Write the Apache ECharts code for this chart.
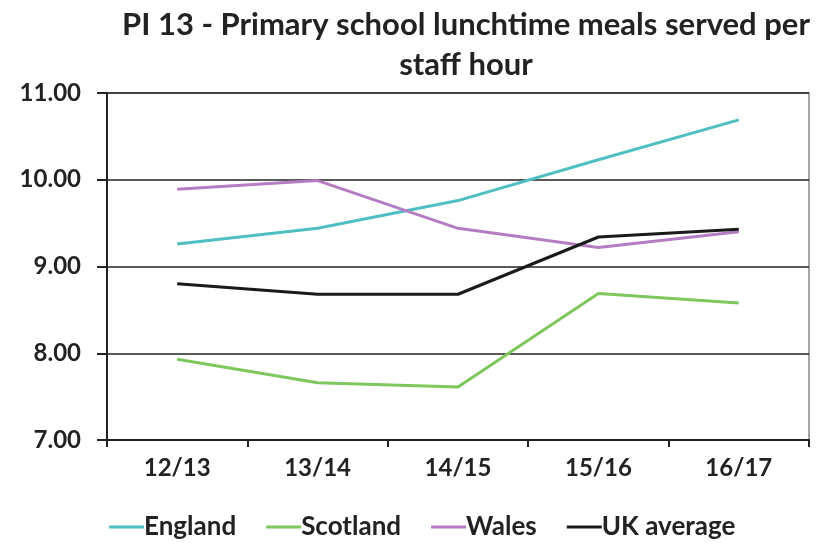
<!DOCTYPE html>
<html><head><meta charset="utf-8">
<script src="https://cdn.jsdelivr.net/npm/echarts@6/dist/echarts.min.js"></script>
<style>html,body{margin:0;padding:0;background:#fff}#c{width:826px;height:547px}</style>
</head><body><div id="c"></div>
<script>
const categories = ['12/13','13/14','14/15','15/16','16/17'];
const england = [9.26, 9.44, 9.76, 10.23, 10.69];
const scotland = [7.93, 7.66, 7.61, 8.69, 8.58];
const wales = [9.89, 9.99, 9.44, 9.22, 9.40];
const ukAverage = [8.80, 8.68, 8.68, 9.34, 9.43];
const seriesNames = ['England','Scotland','Wales','UK average'];
const colors = ['#4fbfc4','#7dc75c','#b67cc3','#1a1a1a'];
const FONT = 'Lato';
const chart = echarts.init(document.getElementById('c'), null, {renderer:'canvas'});
const datas = [england, scotland, wales, ukAverage];
chart.setOption({
  animation:false,
  title:{text:'PI 13 - Primary school lunchtime meals served per\nstaff hour', left:461, top:0, textAlign:'center',
    textStyle:{fontFamily:FONT, fontWeight:'bold', fontSize:31, color:'#222', lineHeight:40}},
  grid:{left:107, right:17, top:93, bottom:107, show:true, borderColor:'#888', borderWidth:1.5},
  legend:{bottom:2, left:104, itemWidth:35, itemHeight:3, itemGap:30, icon:'rect',
    textStyle:{fontFamily:FONT, fontWeight:'bold', fontSize:26, color:'#222', padding:[0,0,0,-5]},
    data:seriesNames},
  xAxis:{type:'category', data:categories, boundaryGap:true,
    axisLine:{lineStyle:{color:'#222', width:2}},
    axisTick:{show:true, length:7, inside:false, lineStyle:{color:'#222', width:2}},
    axisLabel:{fontFamily:FONT, fontWeight:'bold', fontSize:24, color:'#222', margin:16}},
  yAxis:{type:'value', min:7, max:11, interval:1,
    axisLine:{show:true, lineStyle:{color:'#222', width:2}},
    axisTick:{show:true, length:10, lineStyle:{color:'#222', width:2}},
    axisLabel:{fontFamily:FONT, fontWeight:'bold', fontSize:24, color:'#222', margin:26,
      formatter:v=>v.toFixed(2)},
    splitLine:{lineStyle:{color:'#222', width:1.5}}},
  series: seriesNames.map((n,i)=>({name:n, type:'line', data:datas[i], symbol:'none',
    lineStyle:{width:3, color:colors[i]}, itemStyle:{color:colors[i]}, z: i===3?3:2}))
});
</script></body></html>
